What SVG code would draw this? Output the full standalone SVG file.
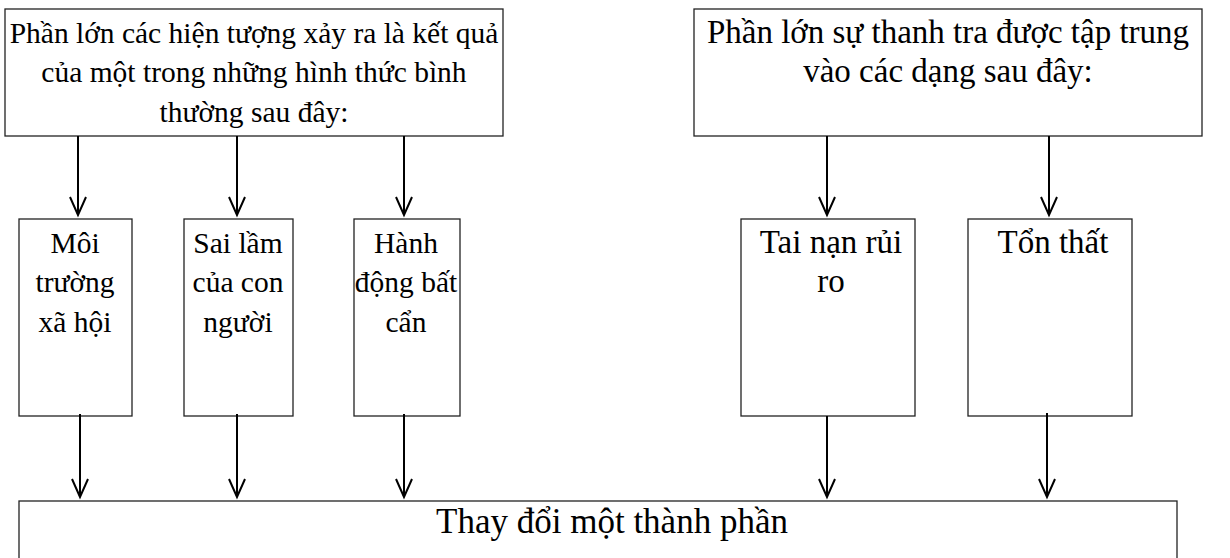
<svg xmlns="http://www.w3.org/2000/svg" width="1230" height="558" viewBox="0 0 1230 558">
<style>
.box{fill:#fff;stroke:#222;stroke-width:1.3}
.t{font-family:"Liberation Serif","Times New Roman",serif;font-size:29.5px;fill:#000;text-anchor:middle}
.r{font-size:33px}
.b{font-size:35px}
.c{stroke:#000;stroke-width:2;fill:none;marker-end:url(#ah)}
</style>
<defs>
<marker id="ah" markerUnits="userSpaceOnUse" markerWidth="22" markerHeight="20" refX="19" refY="10" orient="auto" viewBox="0 0 22 20">
<path d="M1,2 L19,10 L1,18" fill="none" stroke="#000" stroke-width="2"/>
</marker>
</defs>
<rect width="1230" height="558" fill="#fff"/>
<g id="top-left">
<rect class="box" x="5" y="9" width="498" height="127"/>
<text class="t" x="254" y="43">Phần lớn các hiện tượng xảy ra là kết quả</text>
<text class="t" x="254" y="82">của một trong những hình thức bình</text>
<text class="t" x="254" y="122">thường sau đây:</text>
</g>
<g id="top-right">
<rect class="box" x="694" y="9" width="508" height="127"/>
<text class="t r" x="948" y="43">Phần lớn sự thanh tra được tập trung</text>
<text class="t r" x="948" y="82">vào các dạng sau đây:</text>
</g>
<g id="moi-truong">
<rect class="box" x="19" y="219" width="113" height="197"/>
<text class="t" x="75" y="253">Môi</text>
<text class="t" x="75" y="292">trường</text>
<text class="t" x="75" y="332">xã hội</text>
</g>
<g id="sai-lam">
<rect class="box" x="184" y="219" width="109" height="197"/>
<text class="t" x="238" y="253">Sai lầm</text>
<text class="t" x="238" y="292">của con</text>
<text class="t" x="238" y="332">người</text>
</g>
<g id="hanh-dong">
<rect class="box" x="354" y="219" width="106" height="197"/>
<text class="t" x="406" y="253">Hành</text>
<text class="t" x="406" y="292">động bất</text>
<text class="t" x="406" y="332">cẩn</text>
</g>
<g id="tai-nan">
<rect class="box" x="741" y="219" width="174" height="197"/>
<text class="t r" x="831" y="253">Tai nạn rủi</text>
<text class="t r" x="831" y="292">ro</text>
</g>
<g id="ton-that">
<rect class="box" x="968" y="219" width="164" height="197"/>
<text class="t r" x="1053" y="253">Tổn thất</text>
</g>
<g id="thay-doi">
<rect class="box" x="19" y="501" width="1158" height="80"/>
<text class="t b" x="612" y="533">Thay đổi một thành phần</text>
</g>
<g id="connectors">
<path class="c" d="M78,136 V215"/>
<path class="c" d="M237,136 V215"/>
<path class="c" d="M404,136 V215"/>
<path class="c" d="M827,136 V215"/>
<path class="c" d="M1049,136 V215"/>
<path class="c" d="M80,414 V497"/>
<path class="c" d="M237,414 V497"/>
<path class="c" d="M404,414 V497"/>
<path class="c" d="M827,416 V497"/>
<path class="c" d="M1047,413 V497"/>
</g>
</svg>
